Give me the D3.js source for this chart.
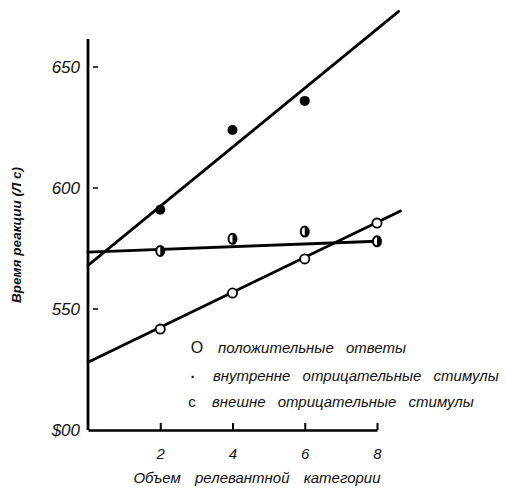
<!DOCTYPE html>
<meta charset="utf-8">
<style>
body { margin: 0; background: #fff; }
text { font-family: "Liberation Sans", Arial, sans-serif; fill: #111; }
.fit { fill: none; stroke: #000; stroke-width: 2.8px; stroke-linecap: round; }
.axis path, .axis line { stroke: #000; }
</style>
<svg width="506" height="488"></svg>
<script src="https://cdn.jsdelivr.net/npm/d3@7"></script>
<script>
// category size on x, reaction time on y
var sizes = [2, 4, 6, 8];
var positive = [541.7, 556.6, 570.7, 585.5];      // open circles
var internalNeg = [591, 624, 636];                // filled dots, at 2,4,6
var externalNeg = [574, 579, 582, 578];           // half-filled circles

// fitted lines: [size, ms]
var positiveFit = [[0, 528], [8.65, 590.5]];
var internalFit = [[0, 568], [8.6, 673]];
var externalFit = [[0, 573.5], [8, 578]];

var yTicks = [500, 550, 600, 650];
var yTickLabels = ["$00", "550", "600", "650"];
var xTicks = [2, 4, 6, 8];

var legendMarks = ["О", "·", "с"];
var legendTexts = ["положительные ответы", "внутренне отрицательные стимулы", "внешне отрицательные стимулы"];

var svg = d3.select("svg");

var x = d3.scaleLinear().domain([0, 8]).range([88, 377]);
var y = d3.scaleLinear().domain([500, 650]).range([430, 67]);

// y axis
svg.append("line")
    .attr("x1", x(0)).attr("x2", x(0))
    .attr("y1", 39).attr("y2", y(500))
    .attr("stroke", "#000").attr("stroke-width", 2.8);

svg.append("g").selectAll("line")
    .data(yTicks.slice(1))
  .enter().append("line")
    .attr("x1", x(0) + 5).attr("x2", x(0) + 10)
    .attr("y1", function(d) { return y(d); })
    .attr("y2", function(d) { return y(d); })
    .attr("stroke", "#000").attr("stroke-width", 1.5);

svg.append("g").selectAll("text")
    .data(yTicks)
  .enter().append("text")
    .attr("x", 80)
    .attr("y", function(d) { return y(d) + 6; })
    .attr("text-anchor", "end")
    .style("font-size", "17px")
    .style("font-style", "italic")
    .text(function(d, i) { return yTickLabels[i]; });

// x axis
var xAxis = d3.axisBottom(x)
    .tickValues(xTicks)
    .tickSizeInner(-7)
    .tickSizeOuter(0)
    .tickPadding(18)
    .tickFormat(d3.format("d"));

var gx = svg.append("g")
    .attr("class", "axis")
    .attr("transform", "translate(0," + y(500) + ")")
    .call(xAxis);
gx.select(".domain").attr("stroke-width", 2.6);
gx.selectAll(".tick line").attr("stroke-width", 2);
gx.selectAll(".tick text")
    .style("font-size", "15px")
    .style("font-style", "italic")
    .style("font-family", "Liberation Sans, Arial, sans-serif")
    .attr("fill", "#111");

svg.append("text")
    .attr("x", 257).attr("y", 483)
    .attr("text-anchor", "middle")
    .attr("word-spacing", "10px")
    .style("font-size", "15px")
    .style("font-style", "italic")
    .text("Объем релевантной категории");

svg.append("text")
    .attr("transform", "translate(21,235) rotate(-90)")
    .attr("text-anchor", "middle")
    .style("font-size", "13.5px")
    .style("font-weight", "bold")
    .style("font-style", "italic")
    .text("Время реакции (Л с)");

// fitted lines
var line = d3.line()
    .x(function(d) { return x(d[0]); })
    .y(function(d) { return y(d[1]); });

[positiveFit, internalFit, externalFit].forEach(function(f) {
  svg.append("path").datum(f).attr("class", "fit").attr("d", line);
});

// filled dots
svg.append("g").selectAll("circle")
    .data(internalNeg)
  .enter().append("circle")
    .attr("cx", function(d, i) { return x(sizes[i]); })
    .attr("cy", function(d) { return y(d); })
    .attr("r", 5)
    .attr("fill", "#000");

// open circles
svg.append("g").selectAll("circle")
    .data(positive)
  .enter().append("circle")
    .attr("cx", function(d, i) { return x(sizes[i]); })
    .attr("cy", function(d) { return y(d); })
    .attr("r", 4.6)
    .attr("fill", "#fff")
    .attr("stroke", "#000")
    .attr("stroke-width", 1.8);

// half-filled circles
var half = svg.append("g").selectAll("g")
    .data(externalNeg)
  .enter().append("g")
    .attr("transform", function(d, i) { return "translate(" + x(sizes[i]) + "," + y(d) + ")"; });
half.append("ellipse")
    .attr("rx", 4).attr("ry", 5)
    .attr("fill", "#fff")
    .attr("stroke", "#000")
    .attr("stroke-width", 2);
half.append("path")
    .attr("d", d3.arc()({innerRadius: 0, outerRadius: 4.5, startAngle: 0, endAngle: Math.PI}))
    .attr("transform", "scale(0.9,1.1)")
    .attr("fill", "#000");

// legend
var rowsY = [353, 381, 407];
var markX = [197, 193, 192];
var textX = [218, 213, 212];
var lg = svg.append("g");
lg.selectAll("text.mark")
    .data(legendMarks)
  .enter().append("text")
    .attr("class", "mark")
    .attr("x", function(d, i) { return markX[i]; })
    .attr("y", function(d, i) { return rowsY[i] + (i === 1 ? 1 : 0); })
    .attr("text-anchor", "middle")
    .style("font-size", function(d, i) { return i === 0 ? "16px" : "15px"; })
    .style("font-weight", function(d, i) { return i === 1 ? "bold" : "normal"; })
    .text(function(d) { return d; });
lg.selectAll("text.lab")
    .data(legendTexts)
  .enter().append("text")
    .attr("class", "lab")
    .attr("x", function(d, i) { return textX[i]; })
    .attr("y", function(d, i) { return rowsY[i]; })
    .attr("word-spacing", "8px")
    .style("font-size", "15px")
    .style("font-style", "italic")
    .text(function(d) { return d; });
</script>
